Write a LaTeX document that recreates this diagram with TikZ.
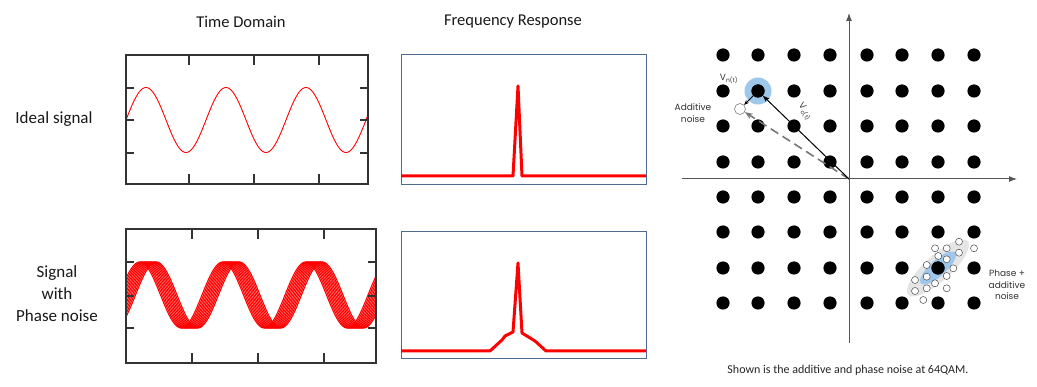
\documentclass[tikz,border=0pt]{standalone}
\usepackage{fontspec}
\setmainfont{Carlito}
\newfontfamily\geo{Poppins}
\usetikzlibrary{arrows.meta}
\definecolor{framegray}{HTML}{333333}
\definecolor{frameblue}{HTML}{4F6A90}
\definecolor{halo}{HTML}{9DC8EC}
\definecolor{axisgray}{HTML}{555555}
\tikzset{
  title/.style={font=\fontsize{16.5}{19}\selectfont, text=black!90},
  rowlabel/.style={font=\fontsize{17}{22}\selectfont, text=black!90, align=center},
  tframe/.style={draw=framegray, line width=1.1pt},
  fframe/.style={draw=frameblue, line width=1pt},
  tickline/.style={draw=framegray, line width=1.1pt},
  spec/.style={draw=red, line width=3pt, line join=round},
  dot/.style={circle, fill=black, inner sep=0pt, minimum size=13pt},
  opendot/.style={circle, draw=gray, fill=white, line width=0.6pt, inner sep=0pt, minimum size=11pt},
  smallopen/.style={circle, draw=black!70, fill=white, line width=0.5pt, inner sep=0pt, minimum size=7pt},
  qlabel/.style={font=\geo\fontsize{9}{11.5}\selectfont, text=black!80, align=center},
}
\begin{document}
\begin{tikzpicture}[x=1pt,y=-1pt]
\useasboundingbox (0,0) rectangle (1037,387);
\fill[white] (0,0) rectangle (1037,387);

% ---------- titles and row labels
\node[title] (tdt) at (241,22) {Time Domain};
\node[title] (frt) at (513,22) {Frequency Response};
\node[rowlabel] (ideal) at (54,119) {Ideal signal};
\node[rowlabel] (noisy) at (57,294) {Signal\\with\\Phase noise};

% ---------- time domain, ideal
\draw[red, line width=0.9pt, domain=126:368, samples=200]
  plot (\x, {120-32.5*sin(4.5*(\x-126))});
\draw[tframe] (126,55) rectangle (368,184);
\foreach \tx in {189,254,319}{
  \draw[tickline] (\tx,55) -- (\tx,65);
  \draw[tickline] (\tx,184) -- (\tx,174);}
\foreach \ty in {88,120,153}{
  \draw[tickline] (126,\ty) -- (134,\ty);
  \draw[tickline] (368,\ty) -- (360,\ty);}

% ---------- time domain, phase noise
\begin{scope}
\clip (126,229) rectangle (376,363);
\foreach \ph in {-8,-6.5,-5,-3.5,-2,-0.5,1,2.5,4,5.5,7,8.5}{
  \draw[red, line width=1.1pt, domain=120:380, samples=220]
    plot (\x, {295-33*sin(4.3373*(\x-127-\ph))});}
\end{scope}
\draw[tframe] (126,229) rectangle (376,363);
\foreach \tx in {192,258,324}{
  \draw[tickline] (\tx,229) -- (\tx,239);
  \draw[tickline] (\tx,363) -- (\tx,353);}
\foreach \ty in {262,296,328}{
  \draw[tickline] (126,\ty) -- (134,\ty);
  \draw[tickline] (376,\ty) -- (368,\ty);}

% ---------- frequency response, ideal
\draw[fframe] (401,55) rectangle (646,185);
\draw[spec] (401,176) -- (513,176) -- (518,86) -- (522,176) -- (646,176);

% ---------- frequency response, phase noise
\draw[fframe] (401,232) rectangle (646,359);
\draw[spec] (401,351) -- (490,351) -- (502,340) -- (505,336) -- (513,332) -- (518,263)
  -- (522,333) -- (535,341) -- (546,351) -- (646,351);

% ---------- constellation
\fill[halo] (758,91) circle (13.5);
\begin{scope}[rotate around={42:(938,268)}]
  \fill[black!10] (938,268) ellipse (40 and 13);
  \fill[halo] (938,268) ellipse (23 and 8);
\end{scope}
\draw[axisgray, line width=1pt, -{Latex[length=8pt,width=6pt]}] (849,343) -- (849,13);
\draw[axisgray, line width=1pt, -{Latex[length=8pt,width=6pt]}] (682,179) -- (1017,179);

\foreach \cx in {723,758,794,830,867,902,938,974}{
  \foreach \cy in {55,91,126,162,197,232,268,303}{
    \fill (\cx,\cy) circle (6.6);}}
\node[dot] (d) at (758,91) {};
\node[dot] (c) at (938,268) {};
\node[opendot] (n) at (740,109) {};
\coordinate (O) at (849,179);

\foreach \px/\py in {935/248.3,946.7/248.3,959/241.7,974/248.3,938.3/256,946.7/259.3,959/252.7,
  926.7/265,953.3/268.3,915/280,926.7/276.7,946.7/276,915/291,926.7/288.3,935/283.3,946.7/288.3,923.3/300}{
  \node[smallopen] at (\px,\py) {};}

\draw[axisgray!80, line width=1.6pt, dash pattern=on 9pt off 5pt, -{Stealth[length=8pt,width=6pt]}] (O) -- (n);
\draw[black, line width=1pt, -{Stealth[length=7pt,width=5pt]}] (O) -- (d);
\draw[black, line width=1pt, -{Stealth[length=5pt,width=4pt]}] (d) -- (n);

\node[qlabel] (vn) at (729,79) {V\textsubscript{n(t)}};
\node[qlabel] (an) at (693,113) {Additive\\noise};
\node[qlabel, rotate=-52, inner sep=0pt] (vc) at (805,112) {V\textsubscript{c(t)}};
\node[qlabel] (pn) at (1007,285) {Phase +\\additive\\noise};
\node[font=\fontsize{12}{14}\selectfont, text=black!85] (cap) at (848,370) {Shown is the additive and phase noise at 64QAM.};
\end{tikzpicture}
\end{document}
